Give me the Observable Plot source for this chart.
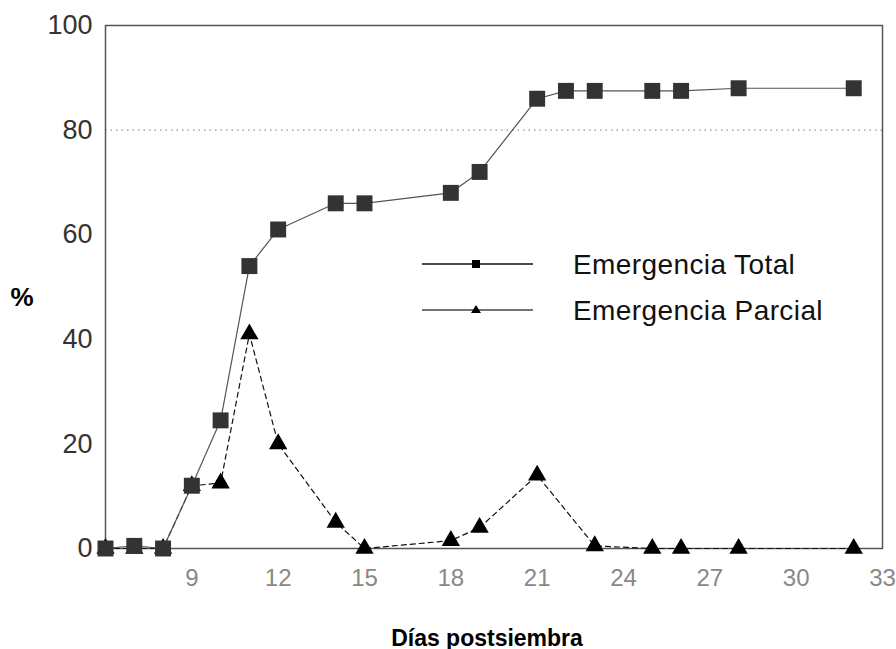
<!DOCTYPE html>
<html>
<head>
<meta charset="utf-8">
<script src="https://cdn.jsdelivr.net/npm/d3@7"></script>
<script src="https://cdn.jsdelivr.net/npm/@observablehq/plot@0.6"></script>
<style>
  html, body { margin: 0; padding: 0; background: #fff; }
  #wrap { position: relative; width: 896px; height: 649px; font-family: "Liberation Sans", Arial, sans-serif; }
  #legend { position: absolute; left: 0; top: 0; width: 896px; height: 649px; pointer-events: none; }
</style>
</head>
<body>
<div id="wrap"></div>
<script>
// Días postsiembra — Emergencia Total (%)
const diasTotal = [6, 7, 8, 9, 10, 11, 12, 14, 15, 18, 19, 21, 22, 23, 25, 26, 28, 32];
const valTotal  = [0, 0.5, 0, 12, 24.5, 54, 61, 66, 66, 68, 72, 86, 87.5, 87.5, 87.5, 87.5, 88, 88];

// Emergencia Parcial (%)
const diasParcial = [6, 7, 8, 9, 10, 11, 12, 14, 15, 18, 19, 21, 23, 25, 26, 28, 32];
const valParcial  = [0, 0, 0, 12, 12.5, 41, 20, 5, 0, 1.5, 4, 14, 0.5, 0, 0, 0, 0];

const xTicks = [9, 12, 15, 18, 21, 24, 27, 30, 33];
const yTicks = [0, 20, 40, 60, 80, 100];
const serieNames = ["Emergencia Total", "Emergencia Parcial"];

const total = diasTotal.map((d, i) => ({dia: d, v: valTotal[i]}));
const parcial = diasParcial.map((d, i) => ({dia: d, v: valParcial[i]}));

const chart = Plot.plot({
  width: 896,
  height: 649,
  marginLeft: 105,
  marginRight: 14,
  marginTop: 25,
  marginBottom: 101,
  style: { fontFamily: "'Liberation Sans', Arial, sans-serif", background: "#fff" },
  x: { domain: [6, 33] },
  y: { domain: [0, 100] },
  marks: [
    Plot.gridY([80], { stroke: "#777", strokeOpacity: 1, strokeDasharray: "1.5,4" }),
    Plot.frame({ stroke: "#555", strokeWidth: 1.5 }),
    Plot.axisY({ ticks: yTicks, tickSize: 0, tickPadding: 13, fontSize: 27, fill: "#333", label: null }),
    Plot.axisX({ ticks: xTicks, tickSize: 0, tickPadding: 20, fontSize: 24, fill: "#888", label: null }),
    Plot.line(parcial, { x: "dia", y: "v", stroke: "#111", strokeWidth: 1.2, strokeDasharray: "5,4" }),
    Plot.dot(parcial, { x: "dia", y: "v", symbol: "triangle", r: 6.8, fill: "#000", stroke: "none" }),
    Plot.line(total, { x: "dia", y: "v", stroke: "#555", strokeWidth: 1.2 }),
    Plot.dot(total, { x: "dia", y: "v", symbol: "square", r: 9, fill: "#333", stroke: "none" }),
    Plot.text(["%"], { frameAnchor: "left", dx: -95, dy: 11, textAnchor: "start", fontSize: 26, fontWeight: "bold", fill: "#000" }),
    Plot.text(["Días postsiembra"], { frameAnchor: "bottom", dx: -7, dy: 97, textAnchor: "middle", fontSize: 23, fontWeight: "bold", fill: "#000", style: "letter-spacing:1.5px" })
  ]
});

const wrap = document.getElementById("wrap");
wrap.appendChild(chart);

// Legend overlay
const leg = d3.select(wrap).append("svg").attr("id", "legend").attr("width", 896).attr("height", 649);
const rows = [{y: 264, sym: "square"}, {y: 310, sym: "triangle"}];
rows.forEach((r, i) => {
  const g = leg.append("g");
  g.append("line").attr("x1", 422).attr("x2", 533).attr("y1", r.y).attr("y2", r.y)
    .attr("stroke", i === 0 ? "#111" : "#444").attr("stroke-width", 1.3);
  if (r.sym === "square") {
    g.append("rect").attr("x", 472).attr("y", r.y - 4).attr("width", 8).attr("height", 8).attr("fill", "#000");
  } else {
    g.append("path").attr("d", `M476,${r.y - 5}L481,${r.y + 3}L471,${r.y + 3}Z`).attr("fill", "#000");
  }
  g.append("text").attr("x", 573).attr("y", r.y + 10)
    .attr("font-family", "'Liberation Sans', Arial, sans-serif")
    .attr("font-size", 28).attr("fill", "#111").style("letter-spacing", "0.4px")
    .text(serieNames[i]);
});
</script>
</body>
</html>
